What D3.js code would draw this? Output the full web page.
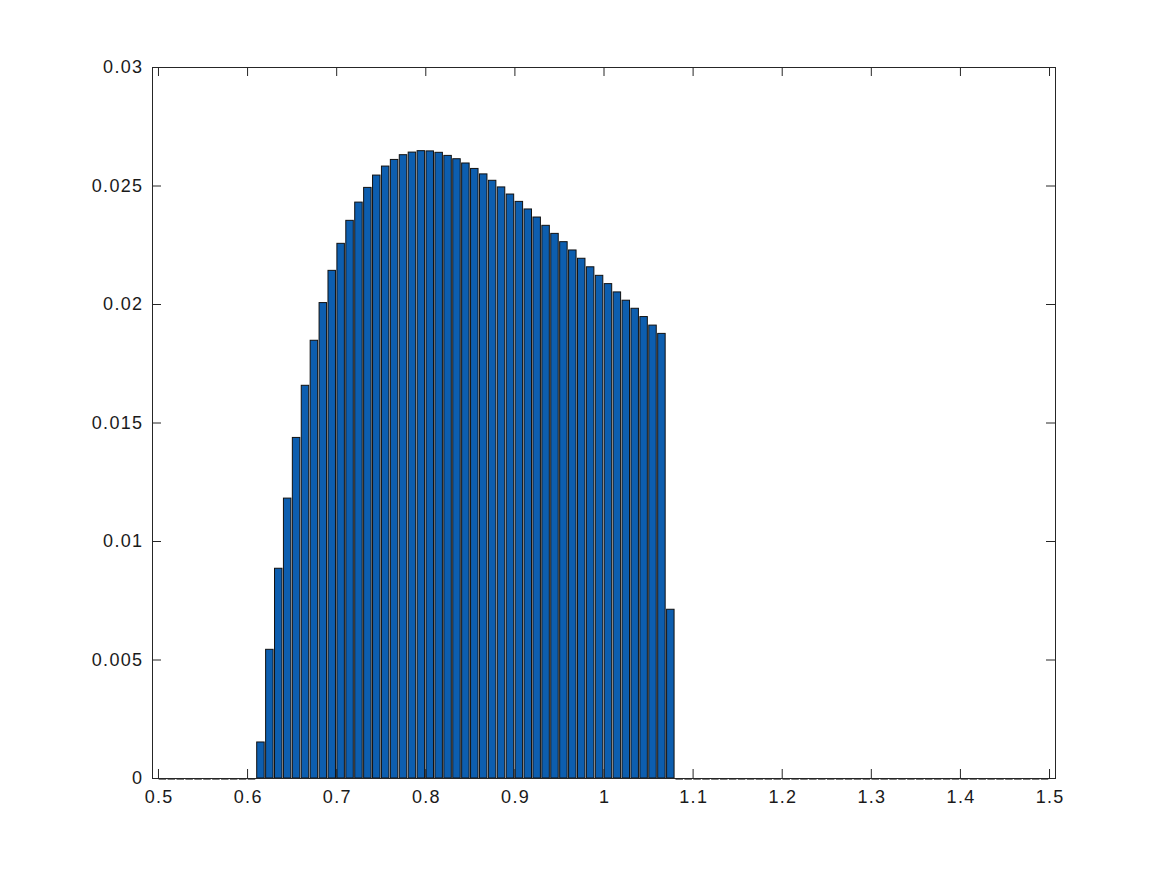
<!DOCTYPE html>
<html>
<head>
  <meta charset="utf-8">
  <title>Histogram</title>
  <script src="https://d3js.org/d3.v7.min.js"></script>
  <style>
    body { margin: 0; background: #fff; }
    svg { display: block; }
    .tick-label { font-family: "Liberation Sans", Arial, Helvetica, sans-serif; font-size: 18px; fill: #1a1a1a; letter-spacing: 1.3px; }
  </style>
</head>
<body>
<svg width="1167" height="875"></svg>
<script>
// bins: centers start at 0.505, width 0.01
const binStart = 0.505;
const binWidth = 0.01;

const leadingZeros = [0, 0, 0, 0, 0, 0, 0, 0, 0, 0, 0];
const counts = [
  0.00152, 0.00543, 0.00885, 0.01181, 0.01437, 0.01657, 0.01847, 0.02006,
  0.02142, 0.02256, 0.02353, 0.02430, 0.02492, 0.02544, 0.02582, 0.02610,
  0.02630, 0.02641, 0.02647, 0.02646, 0.02640, 0.02627, 0.02613, 0.02595,
  0.02572, 0.02549, 0.02522, 0.02494, 0.02464, 0.02433, 0.02401, 0.02367,
  0.02332, 0.02298, 0.02263, 0.02228, 0.02193, 0.02157, 0.02121, 0.02086,
  0.02051, 0.02016, 0.01982, 0.01947, 0.01911, 0.01876, 0.00712
];
const trailingZeros = [
  0, 0, 0, 0, 0, 0, 0, 0, 0, 0, 0, 0, 0, 0, 0, 0, 0, 0, 0, 0, 0,
  0, 0, 0, 0, 0, 0, 0, 0, 0, 0, 0, 0, 0, 0, 0, 0, 0, 0, 0, 0, 0
];
const values = leadingZeros.concat(counts, trailingZeros);

const xTicks = [0.5, 0.6, 0.7, 0.8, 0.9, 1, 1.1, 1.2, 1.3, 1.4, 1.5];
const yTicks = [0, 0.005, 0.01, 0.015, 0.02, 0.025, 0.03];

const mLeft = 152, mRight = 1055, mTop = 67, mBottom = 778;
const tickLen = 9;
const axisColor = '#262626';

const svg = d3.select('svg');
const x = d3.scaleLinear().domain([0.4933, 1.5067]).range([mLeft, mRight]);
const y = d3.scaleLinear().domain([0, 0.03]).range([mBottom, mTop]);

const data = values.map((v, i) => ({ c: binStart + i * binWidth, v: v }));
const bw = x(binWidth * 0.84) - x(0);

// bars
svg.append('g').selectAll('rect')
  .data(data.filter(d => d.v > 0))
  .enter().append('rect')
    .attr('x', d => x(d.c) - bw / 2)
    .attr('y', d => y(d.v))
    .attr('width', bw)
    .attr('height', d => y(0) - y(d.v))
    .attr('fill', '#0d5eaf')
    .attr('stroke', '#111')
    .attr('stroke-width', 1);

// box
svg.append('rect')
  .attr('x', mLeft + 0.5).attr('y', mTop + 0.5)
  .attr('width', mRight - mLeft).attr('height', mBottom - mTop)
  .attr('fill', 'none').attr('stroke', axisColor).attr('stroke-width', 1);

// zero-height bars show as short dashes on the baseline
svg.append('g').selectAll('line')
  .data(data.filter(d => d.v === 0))
  .enter().append('line')
    .attr('x1', d => x(d.c) - bw / 2)
    .attr('x2', d => x(d.c) + bw / 2)
    .attr('y1', mBottom + 1.5)
    .attr('y2', mBottom + 1.5)
    .attr('stroke', '#777')
    .attr('stroke-width', 1);

// axes with inward ticks
const xAxisB = d3.axisBottom(x).tickValues(xTicks).tickSizeInner(-tickLen).tickSizeOuter(0).tickPadding(12).tickFormat(d3.format('~g'));
const xAxisT = d3.axisTop(x).tickValues(xTicks).tickSizeInner(-tickLen).tickSizeOuter(0).tickFormat('');
const yAxisL = d3.axisLeft(y).tickValues(yTicks).tickSizeInner(-tickLen).tickSizeOuter(0).tickPadding(10).tickFormat(d3.format('~g'));
const yAxisR = d3.axisRight(y).tickValues(yTicks).tickSizeInner(-tickLen).tickSizeOuter(0).tickFormat('');

function style(g) {
  g.select('.domain').remove();
  g.selectAll('.tick line').attr('stroke', axisColor);
  g.selectAll('.tick text').attr('class', 'tick-label').attr('fill', null);
  g.attr('font-size', null).attr('font-family', null);
}

svg.append('g').attr('transform', `translate(0,${mBottom})`).call(xAxisB).call(style)
  .selectAll('text').attr('dx', '0.65px');
svg.append('g').attr('transform', `translate(0,${mTop})`).call(xAxisT).call(style);
svg.append('g').attr('transform', `translate(${mLeft},0)`).call(yAxisL).call(style)
  .selectAll('text').attr('dx', '1.3px');
svg.append('g').attr('transform', `translate(${mRight},0)`).call(yAxisR).call(style);
</script>
</body>
</html>
